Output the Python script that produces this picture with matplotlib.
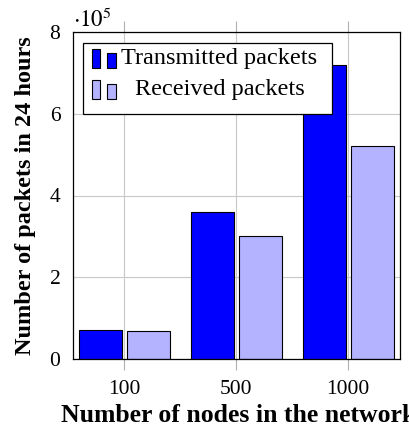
import numpy as np
import matplotlib.pyplot as plt
from matplotlib.patches import Rectangle

# packets counted over 24 hours, in units of 1e5
nodes = ["100", "500", "1000"]
transmitted = [0.72, 3.6, 7.2]
received = [0.68, 3.0, 5.2]
yticks = [0, 2, 4, 6, 8]
series_names = ["Transmitted packets", "Received packets"]

plt.rcParams['font.family'] = ['Liberation Serif', 'DejaVu Serif']
plt.rcParams['mathtext.fontset'] = 'stix'

fig = plt.figure(figsize=(4.09, 4.29), dpi=100)
ax = fig.add_axes([73 / 409, 70 / 429, 327 / 409, 327 / 429])

x = np.arange(len(nodes))
w = 0.385
b1 = ax.bar(x - 0.212, transmitted, w, color='#0000ff', edgecolor='black',
            lw=0.8, zorder=3)
b2 = ax.bar(x + 0.218, received, w, color='#b3b3ff', edgecolor='black',
            lw=0.8, zorder=3)

ax.set_xlim(-0.455, 2.465)
ax.set_ylim(0, 8)
ax.set_xticks(x)
ax.set_xticklabels(nodes)
ax.set_yticks(yticks)
ax.set_yticklabels([str(t) for t in yticks])

ax.grid(True, color='#c8c8c8', lw=0.8, zorder=0)
ax.tick_params(axis='x', direction='out', length=8, width=0.8,
               color='#b0b0b0', top=True, labelsize=15.5, pad=7)
ax.tick_params(axis='y', length=0, labelsize=15.5, pad=9)
for s in ax.spines.values():
    s.set_linewidth(0.9)
    s.set_zorder(4)

ax.text(0.0, 1.0, r'$\cdot10^{5}$', transform=ax.transAxes,
        fontsize=16.5, ha='left', va='bottom')

ax.set_ylabel('Number of packets in 24 hours', fontsize=17.5,
              fontweight='bold', labelpad=10)
fig.text(61 / 409, 1 - 415 / 429, 'Number of nodes in the network',
         fontsize=18.5, fontweight='bold', ha='left', va='center')

# legend box with a pair of small bars per entry, text centred in its column
tr = ax.transAxes
ax.add_patch(Rectangle((0.031, 0.749), 0.761, 0.217, transform=tr,
                       facecolor='white', edgecolor='black', lw=0.9,
                       zorder=6, clip_on=False))
rows = [(0.890, 0.918), (0.795, 0.824)]
for bars, name, (y0, ty) in zip([b1, b2], series_names, rows):
    fc = bars.patches[0].get_facecolor()
    for bx, bh in ((0.058, 0.058), (0.105, 0.046)):
        ax.add_patch(Rectangle((bx, y0), 0.025, bh, transform=tr,
                               facecolor=fc, edgecolor='black', lw=0.8,
                               zorder=7, clip_on=False))
    ax.text(0.448, ty, name, transform=tr, fontsize=17.5, ha='center',
            va='center', zorder=8)

fig.savefig('out.png', dpi=100)
